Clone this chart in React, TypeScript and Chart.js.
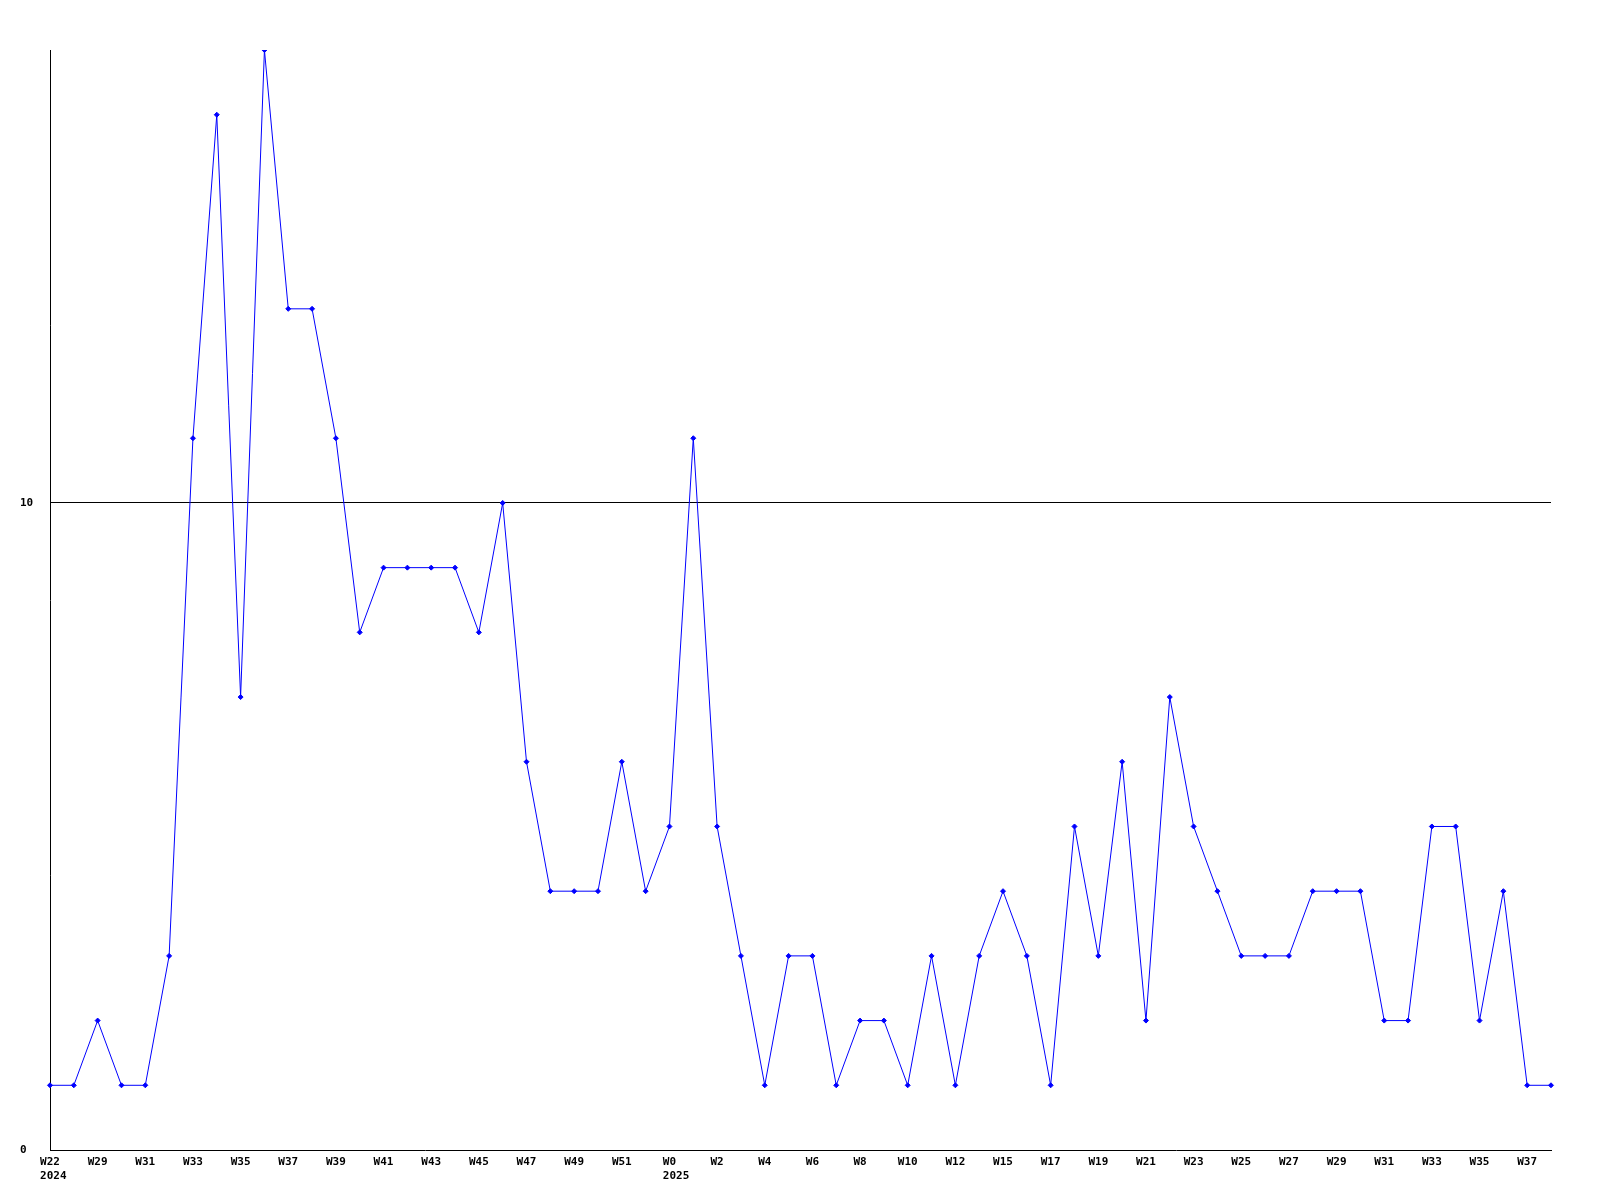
import React, { useEffect, useRef } from "react";
import { Chart, registerables } from "chart.js";

Chart.register(...registerables);

const weeks: string[] = [
  "W22",
  "W28", "W29", "W30", "W31", "W32", "W33", "W34", "W35", "W36", "W37", "W38", "W39", "W40",
  "W41", "W42", "W43", "W44", "W45", "W46", "W47", "W48", "W49", "W50", "W51", "W52",
  "W0", "W1", "W2", "W3", "W4", "W5", "W6", "W7", "W8", "W9", "W10", "W11", "W12",
  "W14",
  "W15", "W16", "W17", "W18", "W19", "W20", "W21", "W22", "W23", "W24", "W25", "W26", "W27",
  "W28", "W29", "W30", "W31", "W32", "W33", "W34", "W35", "W36", "W37", "W38",
];

const values: number[] = [
  1,
  1, 2, 1, 1, 3, 11, 16, 7, 17, 13, 13, 11, 8,
  9, 9, 9, 9, 8, 10, 6, 4, 4, 4, 6, 4,
  5, 11, 5, 3, 1, 3, 3, 1, 2, 2, 1, 3, 1,
  3,
  4, 3, 1, 5, 3, 6, 2, 7, 5, 4, 3, 3, 3,
  4, 4, 4, 2, 2, 5, 5, 2, 4, 1, 1,
];

const yearMarks: { index: number; year: string }[] = [
  { index: 0, year: "2024" },
  { index: 26, year: "2025" },
];

const yTicks: number[] = [0, 10];

const FONT = "'DejaVu Sans Mono', 'Liberation Mono', monospace";

export default function App() {
  const ref = useRef<HTMLCanvasElement | null>(null);

  useEffect(() => {
    if (!ref.current) return;
    const yearPlugin = {
      id: "yearLabels",
      afterDraw(chart: any) {
        const ctx = chart.ctx;
        const xs = chart.scales.x;
        ctx.save();
        ctx.font = `bold 11px ${FONT}`;
        ctx.fillStyle = "#000";
        ctx.textAlign = "left";
        ctx.textBaseline = "top";
        for (const m of yearMarks) {
          const px = xs.getPixelForValue(m.index);
          const w = ctx.measureText(weeks[m.index]).width;
          ctx.fillText(m.year, px - w / 2, 1171);
        }
        ctx.restore();
      },
    };
    const chart = new Chart(ref.current, {
      type: "line",
      data: {
        labels: weeks,
        datasets: [
          {
            data: values,
            borderColor: "#0000ff",
            backgroundColor: "#0000ff",
            borderWidth: 1,
            pointStyle: "rectRot",
            pointRadius: 2.5,
            pointBorderWidth: 1,
            tension: 0,
            fill: false,
          },
        ],
      },
      options: {
        responsive: false,
        animation: false,
        layout: { padding: { left: 20, right: 49, top: 50, bottom: 0 } },
        plugins: {
          legend: { display: false },
          tooltip: { enabled: false },
        },
        scales: {
          x: {
            offset: false,
            grid: { display: false, drawTicks: false },
            border: { display: true, color: "#000", width: 1 },
            ticks: {
              autoSkip: false,
              maxRotation: 0,
              minRotation: 0,
              padding: 6,
              color: "#000",
              font: { family: FONT, size: 11, weight: "bold" },
              callback: (_v: any, i: number) => (i % 2 === 0 ? weeks[i] : ""),
            },
            afterFit: (s: any) => {
              s.height = 50;
            },
          },
          y: {
            min: 0,
            max: 17,
            afterBuildTicks: (s: any) => {
              s.ticks = yTicks.map((v) => ({ value: v }));
            },
            grid: {
              drawTicks: false,
              color: (c: any) => (c.tick && c.tick.value === 10 ? "#000" : "rgba(0,0,0,0)"),
              lineWidth: 1,
            },
            border: { display: true, color: "#000", width: 1 },
            ticks: {
              crossAlign: "far",
              padding: 0,
              color: "#000",
              font: { family: FONT, size: 11, weight: "bold" },
            },
            afterFit: (s: any) => {
              s.width = 30;
            },
          },
        },
      },
      plugins: [yearPlugin],
    });
    return () => chart.destroy();
  }, []);

  return (
    <div style={{ position: "absolute", left: 0, top: 0, width: 1600, height: 1200, background: "#fff" }}>
      <canvas ref={ref} width={1600} height={1200} />
    </div>
  );
}
